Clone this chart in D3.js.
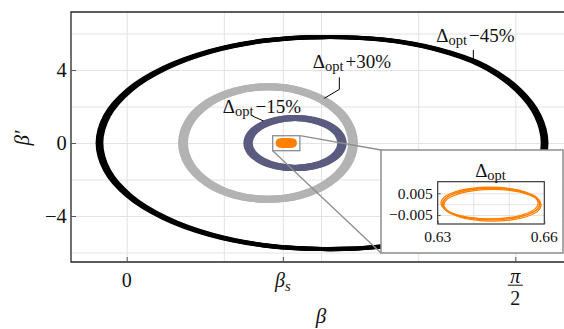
<!DOCTYPE html>
<html>
<head>
<meta charset="utf-8">
<script src="https://cdn.jsdelivr.net/npm/d3@7"></script>
<style>
  html, body { margin: 0; padding: 0; background: #fff; }
  svg { display: block; }
  text { font-family: "Liberation Serif", "DejaVu Serif", serif; fill: #111; }
</style>
</head>
<body>
<svg id="chart" width="564" height="329"></svg>
<script>
// Phase-space orbits (β, β′) for three detunings around Δopt, and the Δopt orbit itself
const orbitMinus45 = [
  [-0.110, 0.000], [-0.079, 1.507], [0.0105, 2.904], [0.1536, 4.104], [0.340, 5.030],
  [0.5566, 5.610], [0.7894, 5.808], [1.032, 5.671], [1.250, 5.150], [1.444, 4.219],
  [1.582, 2.904], [1.662, 1.479], [1.689, 0.000], [1.662, -1.479], [1.582, -2.904],
  [1.444, -4.219], [1.250, -5.150], [1.032, -5.671], [0.7894, -5.808], [0.5566, -5.610],
  [0.340, -5.030], [0.1536, -4.104], [0.0105, -2.904], [-0.079, -1.507]
];
const orbitPlus30 = [
  [0.2276, 0.00], [0.2538, 1.18], [0.3282, 2.18], [0.4394, 2.85], [0.5711, 3.08],
  [0.7029, 2.85], [0.8141, 2.18], [0.8884, 1.18], [0.9147, 0.00], [0.8884, -1.18],
  [0.8141, -2.18], [0.7029, -2.85], [0.5711, -3.08], [0.4394, -2.85], [0.3282, -2.18],
  [0.2538, -1.18]
];
const orbitMinus15 = [
  [0.4903, 0.000], [0.5048, 0.524], [0.5461, 0.968], [0.6075, 1.266], [0.6803, 1.370],
  [0.7530, 1.266], [0.8145, 0.968], [0.8557, 0.524], [0.8703, 0.000], [0.8557, -0.524],
  [0.8145, -0.968], [0.7530, -1.266], [0.6803, -1.370], [0.6075, -1.266], [0.5461, -0.968],
  [0.5048, -0.524]
];
const orbitOpt = [
  [0.6313, 0.0000], [0.6323, 0.0028], [0.6353, 0.00516], [0.6398, 0.00674], [0.6450, 0.0073],
  [0.6503, 0.00674], [0.6547, 0.00516], [0.6577, 0.0028], [0.6587, 0.0000], [0.6577, -0.0028],
  [0.6547, -0.00516], [0.6503, -0.00674], [0.6450, -0.0073], [0.6398, -0.00674], [0.6353, -0.00516],
  [0.6323, -0.0028]
];

// Axis ticks and grid
const betaS = 0.631;
const xTickValues = [0, betaS, Math.PI / 2];
const xTickLabels = ["0", "βs", "π/2"];
const yTickValues = [-4, 0, 4];
const xGridValues = [0, Math.PI / 8, betaS, Math.PI / 4, 3 * Math.PI / 8, Math.PI / 2];
const yGridValues = [-6, -4, -2, 0, 2, 4, 6];

// Inset axes
const insetXTicks = [0.63, 0.66];
const insetYTicks = [-0.005, 0.005];
const insetXGrid = [0.64, 0.65];
const insetYGrid = [-0.005, 0, 0.005];
const zoomBox = { x: [0.59, 0.70], y: [-0.42, 0.40] };

// Callout labels
const callouts = [
  { label: "−45%", at: [1.251, 5.55], line: [[1.401, 5.10], [1.401, 4.38]] },
  { label: "+30%", at: [0.752, 4.09], line: [[0.8594, 3.60], [0.8594, 2.94], [0.7987, 2.45]] },
  { label: "−15%", at: [0.388, 1.63], line: [[0.5077, 1.48], [0.5530, 1.21]] }
];

const svg = d3.select("#chart");
const W = 564, H = 329;
const plot = { left: 71, top: 12, right: 596.8, bottom: 262 };

const x = d3.scaleLinear().domain([-0.2251, 1.9]).range([plot.left, plot.right]);
const y = d3.scaleLinear().domain([-6.52, 7.18]).range([plot.bottom, plot.top]);

svg.append("rect").attr("width", W).attr("height", H).attr("fill", "#fff");

svg.append("defs").append("clipPath").attr("id", "plotClip")
  .append("rect").attr("x", plot.left).attr("y", plot.top)
  .attr("width", plot.right - plot.left).attr("height", plot.bottom - plot.top);

// gridlines
const grid = svg.append("g");
grid.append("g").attr("transform", `translate(0,${plot.bottom})`)
  .call(d3.axisBottom(x).tickValues(xGridValues).tickSize(-(plot.bottom - plot.top)).tickFormat(""))
  .call(g => g.select(".domain").remove())
  .call(g => g.selectAll("line").attr("stroke", "#e3e3e3").attr("stroke-width", 1));
grid.append("g").attr("transform", `translate(${plot.left},0)`)
  .call(d3.axisLeft(y).tickValues(yGridValues).tickSize(-(plot.right - plot.left)).tickFormat(""))
  .call(g => g.select(".domain").remove())
  .call(g => g.selectAll("line").attr("stroke", "#e3e3e3").attr("stroke-width", 1));

// orbits
const line = d3.line().x(d => x(d[0])).y(d => y(d[1])).curve(d3.curveCatmullRomClosed);
const orbits = svg.append("g").attr("clip-path", "url(#plotClip)");

function drawBand(data, color, width, spread) {
  // a bundle of overlapping trajectories: stroked several times with small horizontal shifts
  [-spread, 0, spread].forEach(dx => {
    orbits.append("path").datum(data).attr("d", line)
      .attr("transform", `translate(${dx},0)`)
      .attr("fill", "none").attr("stroke", color).attr("stroke-width", width)
      .attr("stroke-linejoin", "round");
  });
}
drawBand(orbitMinus45, "#000", 4.2, 1.8);
drawBand(orbitPlus30, "#b3b3b3", 7, 1.5);
drawBand(orbitMinus15, "#5b5b80", 6.2, 1.6);
// the Δopt orbit is tiny at this scale: a thick stroke makes it a small solid patch
[-1, 0, 1].forEach(dx => {
  orbits.append("path").datum(orbitOpt).attr("d", line)
    .attr("transform", `translate(${dx * 2.5},0)`)
    .attr("fill", "#ff7f00").attr("stroke", "#ff7f00").attr("stroke-width", 9.5)
    .attr("stroke-linejoin", "round");
});

// callouts
const plain = d3.line().x(d => x(d[0])).y(d => y(d[1]));
callouts.forEach(c => {
  svg.append("path").datum(c.line).attr("d", plain)
    .attr("fill", "none").attr("stroke", "#000").attr("stroke-width", 1);
  const t = svg.append("text").attr("x", x(c.at[0])).attr("y", y(c.at[1])).attr("font-size", 19);
  t.append("tspan").text("Δ");
  t.append("tspan").attr("font-size", 14.5).attr("dy", 3).text("opt");
  t.append("tspan").attr("dy", -3).attr("dx", 2).text(c.label);
});

// frame (the right side runs past the window)
svg.append("path")
  .attr("d", `M${plot.right},${plot.top}H${plot.left}V${plot.bottom}H${plot.right}`)
  .attr("fill", "none").attr("stroke", "#262626").attr("stroke-width", 1.3);

// axes: inward tick marks
const xAxis = svg.append("g").attr("transform", `translate(0,${plot.bottom})`)
  .call(d3.axisBottom(x).tickValues(xTickValues).tickSize(-5).tickFormat(""));
xAxis.select(".domain").remove();
xAxis.selectAll("line").attr("stroke", "#555").attr("stroke-width", 1);

const yAxis = svg.append("g").attr("transform", `translate(${plot.left},0)`)
  .call(d3.axisLeft(y).tickValues(yTickValues).tickSize(-5).tickPadding(4.3)
    .tickFormat(d => d < 0 ? "−" + Math.abs(d) : String(d)));
yAxis.select(".domain").remove();
yAxis.selectAll("line").attr("stroke", "#555").attr("stroke-width", 1);
yAxis.selectAll("text").attr("font-size", 20.5).style("font-family", "Liberation Serif").attr("fill", "#111");

// x tick labels
const xl = plot.bottom + 24.7;
xTickValues.forEach((v, i) => {
  const lab = xTickLabels[i];
  const px = x(v);
  if (lab === "βs") {
    const t = svg.append("text").attr("x", px).attr("y", xl).attr("text-anchor", "middle")
      .attr("font-size", 20).attr("font-style", "italic");
    t.append("tspan").text("β");
    t.append("tspan").attr("font-size", 14.5).attr("dy", 4).text("s");
  } else if (lab === "π/2") {
    svg.append("text").attr("x", px).attr("y", xl - 3.5).attr("text-anchor", "middle")
      .attr("font-size", 20).attr("font-style", "italic").text("π");
    svg.append("line").attr("x1", px - 7.5).attr("x2", px + 7.5)
      .attr("y1", xl - 1.5).attr("y2", xl - 1.5).attr("stroke", "#111").attr("stroke-width", 1);
    svg.append("text").attr("x", px).attr("y", xl + 18).attr("text-anchor", "middle")
      .attr("font-size", 20).text("2");
  } else {
    svg.append("text").attr("x", px).attr("y", xl).attr("text-anchor", "middle")
      .attr("font-size", 20).text(lab);
  }
});

// axis titles
svg.append("text").attr("x", x(0.7854)).attr("y", 323).attr("text-anchor", "middle")
  .attr("font-size", 21).attr("font-style", "italic").text("β");
svg.append("text").attr("transform", "translate(29,138) rotate(-90)").attr("text-anchor", "middle")
  .attr("font-size", 21).attr("font-style", "italic").text("β′");

// zoom box and connectors
const inset = { left: 381, top: 150, right: 563, bottom: 253 };
svg.append("rect")
  .attr("x", x(zoomBox.x[0])).attr("y", y(zoomBox.y[1]))
  .attr("width", x(zoomBox.x[1]) - x(zoomBox.x[0]))
  .attr("height", y(zoomBox.y[0]) - y(zoomBox.y[1]))
  .attr("fill", "none").attr("stroke", "#8e8e8e").attr("stroke-width", 1.3);
svg.append("line").attr("x1", x(zoomBox.x[1])).attr("y1", y(zoomBox.y[1]))
  .attr("x2", inset.left).attr("y2", inset.top).attr("stroke", "#8e8e8e").attr("stroke-width", 1.3);
svg.append("line").attr("x1", x(zoomBox.x[0])).attr("y1", y(zoomBox.y[0]))
  .attr("x2", inset.left).attr("y2", inset.bottom).attr("stroke", "#8e8e8e").attr("stroke-width", 1.3);

// inset panel
svg.append("rect").attr("x", inset.left).attr("y", inset.top)
  .attr("width", inset.right - inset.left).attr("height", inset.bottom - inset.top)
  .attr("fill", "#fff").attr("stroke", "#8e8e8e").attr("stroke-width", 1.5);

const ip = { left: 437.7, right: 544.3, top: 181.7, bottom: 224 };
const ix = d3.scaleLinear().domain([0.63, 0.66]).range([ip.left, ip.right]);
const iy = d3.scaleLinear().domain([-0.00915, 0.01035]).range([ip.bottom, ip.top]);

const ig = svg.append("g");
ig.append("g").attr("transform", `translate(0,${ip.bottom})`)
  .call(d3.axisBottom(ix).tickValues(insetXGrid).tickSize(-(ip.bottom - ip.top)).tickFormat(""))
  .call(g => g.select(".domain").remove())
  .call(g => g.selectAll("line").attr("stroke", "#e3e3e3"));
ig.append("g").attr("transform", `translate(${ip.left},0)`)
  .call(d3.axisLeft(iy).tickValues(insetYGrid).tickSize(-(ip.right - ip.left)).tickFormat(""))
  .call(g => g.select(".domain").remove())
  .call(g => g.selectAll("line").attr("stroke", "#e3e3e3"));

const iline = d3.line().x(d => ix(d[0])).y(d => iy(d[1])).curve(d3.curveCatmullRomClosed);
[[-1.4, -1.1], [0, 0], [1.4, 1.1], [0.7, -0.6]].forEach(([dx, dy]) => {
  ig.append("path").datum(orbitOpt).attr("d", iline)
    .attr("transform", `translate(${dx},${dy})`)
    .attr("fill", "none").attr("stroke", "#ff7f00").attr("stroke-width", 1.2);
});

ig.append("rect").attr("x", ip.left).attr("y", ip.top)
  .attr("width", ip.right - ip.left).attr("height", ip.bottom - ip.top)
  .attr("fill", "none").attr("stroke", "#262626").attr("stroke-width", 1.1);

const iya = ig.append("g").attr("transform", `translate(${ip.left},0)`)
  .call(d3.axisLeft(iy).tickValues(insetYTicks).tickSize(-3).tickPadding(5)
    .tickFormat(d => (d < 0 ? "−" : "") + Math.abs(d).toFixed(3)));
iya.select(".domain").remove();
iya.selectAll("line").attr("stroke", "#555");
iya.selectAll("text").attr("font-size", 15.5).style("font-family", "Liberation Serif").attr("fill", "#111");

const ixa = ig.append("g").attr("transform", `translate(0,${ip.bottom})`)
  .call(d3.axisBottom(ix).tickValues(insetXTicks).tickSize(-3).tickFormat(""));
ixa.select(".domain").remove();
ixa.selectAll("line").attr("stroke", "#555");
insetXTicks.forEach(v => {
  ig.append("text").attr("x", ix(v)).attr("y", 241.7).attr("text-anchor", "middle")
    .attr("font-size", 15.5).text(v.toFixed(2));
});

const it = ig.append("text").attr("x", (ip.left + ip.right) / 2 - 0.5).attr("y", 177)
  .attr("text-anchor", "middle").attr("font-size", 19);
it.append("tspan").text("Δ");
it.append("tspan").attr("font-size", 14.5).attr("dy", 3).text("opt");
</script>
</body>
</html>
